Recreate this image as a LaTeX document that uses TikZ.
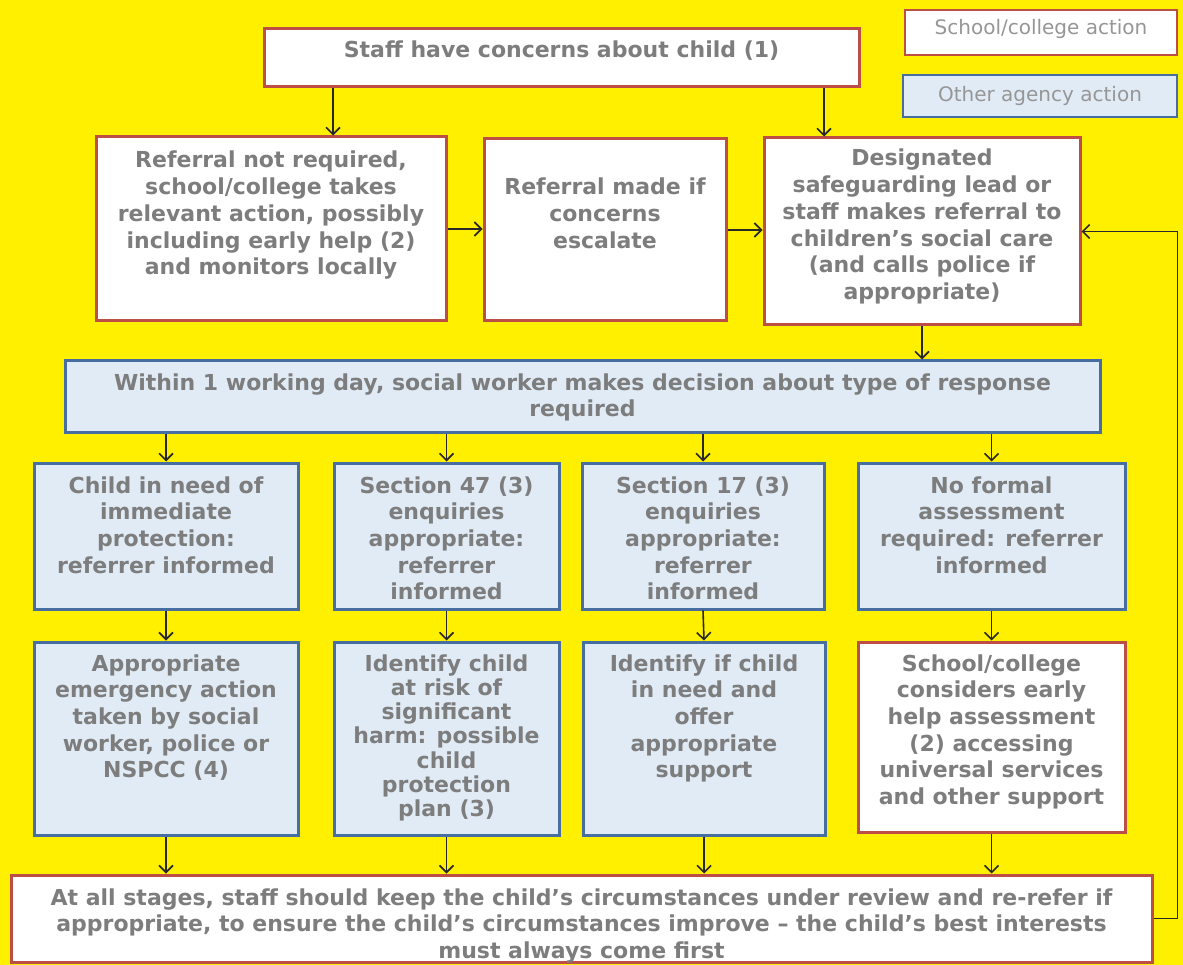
\documentclass[tikz,border=0pt]{standalone}
\usepackage{fontspec}
\setmainfont{DejaVu Sans}
\usetikzlibrary{arrows.meta}
\definecolor{bg}{RGB}{255,240,0}
\definecolor{bred}{RGB}{188,78,70}
\definecolor{bblue}{RGB}{70,110,160}
\definecolor{bfill}{RGB}{224,235,246}
\definecolor{txt}{RGB}{125,125,125}
\definecolor{ltxt}{RGB}{150,150,150}
\definecolor{arc}{RGB}{40,40,40}
\newcommand\bx[4]{\parbox[c][#2pt][t]{#1pt}{\centering\rule{0pt}{#3pt}#4\par}}
\begin{document}
\begin{tikzpicture}[x=1pt,y=-1pt,
  base/.style={inner sep=0pt, line width=3pt, text=txt, font=\fontsize{22}{26.7}\selectfont\bfseries},
  redbox/.style={base, draw=bred, fill=white},
  bluebox/.style={base, draw=bblue, fill=bfill},
  legend/.style={line width=2.5pt, text=ltxt, font=\fontsize{20}{24}\selectfont\mdseries},
  arr/.style={draw=arc, line width=1.6pt, -{Straight Barb[length=7pt,width=14pt]}},
]
\fill[bg] (0,0) rectangle (1183,965);
\useasboundingbox (0,0) rectangle (1183,965);

\node[redbox] (top) at (561.5,58) {\bx{595}{58}{29}{Staff have concerns about child (1)}};
\node[redbox, legend] (leg1) at (1041,32.5) {\bx{272}{45}{25}{School/college action}};
\node[bluebox, legend] (leg2) at (1040,96) {\bx{274}{42}{27}{Other agency action}};

\node[redbox] (A) at (271,229) {\bx{350}{184}{31}{Referral not required,\\ school/college takes\\ relevant action, possibly\\ including early help (2)\\ and monitors locally}};
\node[redbox] (B) at (605,230) {\bx{242}{182}{56}{Referral made if\\ concerns\\ escalate}};
\node[redbox] (C) at (922,231.5) {\bx{316}{187}{28}{Designated\\ safeguarding lead or\\ staff makes referral to\\ children’s social care\\ (and calls police if\\ appropriate)}};

\node[bluebox] (dec) at (582.5,396.5) {\bx{1035}{71}{29}{Within 1 working day, social worker makes decision about type of response\\ required}};

\node[bluebox] (D1) at (166,536) {\bx{264}{146}{30}{Child in need of\\ immediate\\ protection:\\ referrer informed}};
\node[bluebox] (D2) at (446.5,536) {\bx{225}{146}{30}{Section 47 (3)\\ enquiries\\ appropriate:\\ referrer\\ informed}};
\node[bluebox] (D3) at (703,536) {\bx{242}{146}{30}{Section 17 (3)\\ enquiries\\ appropriate:\\ referrer\\ informed}};
\node[bluebox] (D4) at (991.5,536) {\bx{267}{146}{30}{No formal\\ assessment\\ required: referrer\\ informed}};

\node[bluebox] (E1) at (166,738.5) {\bx{264}{193}{29}{Appropriate\\ emergency action\\ taken by social\\ worker, police or\\ NSPCC (4)}};
\node[bluebox, font=\fontsize{22}{24.3}\selectfont\bfseries] (E2) at (446.5,738.5) {\bx{225}{193}{29}{Identify child\\ at risk of\\ significant\\ harm: possible\\ child\\ protection\\ plan (3)}};
\node[bluebox] (E3) at (704,738.5) {\bx{242}{193}{29}{Identify if child\\ in need and\\ offer\\ appropriate\\ support}};
\node[redbox] (E4) at (991.5,737) {\bx{267}{190}{29}{School/college\\ considers early\\ help assessment\\ (2) accessing\\ universal services\\ and other support}};

\node[redbox] (bot) at (581.5,918.5) {\bx{1141}{87}{30}{At all stages, staff should keep the child’s circumstances under review and re-refer if\\ appropriate, to ensure the child’s circumstances improve – the child’s best interests\\ must always come first}};

\coordinate (xa) at (333,0);
\coordinate (xc) at (824,0);
\draw[arr] (top.south -| xa) -- (A.north -| xa);
\draw[arr] (top.south -| xc) -- (C.north -| xc);
\draw[arr] (A.east) -- (A.east -| B.west);
\draw[arr] (B.east) -- (B.east -| C.west);
\draw[arr] (C.south) -- (C.south |- dec.north);
\foreach \n in {1,...,4} {
  \draw[arr] (dec.south -| D\n.north) -- (D\n.north);
  \draw[arr] (D\n.south) -- (E\n.north);
  \draw[arr] (E\n.south) -- (E\n.south |- bot.north);
}
\draw[arr] (bot.east) -- ++(24,0) |- (C.east);
\end{tikzpicture}
\end{document}
